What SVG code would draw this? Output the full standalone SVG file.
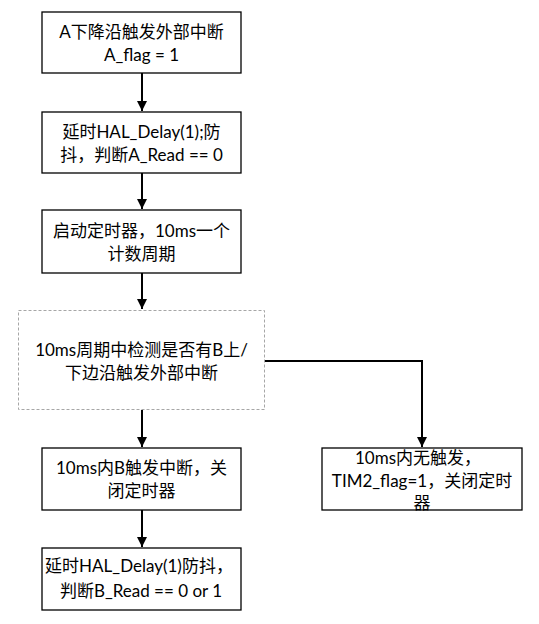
<svg xmlns="http://www.w3.org/2000/svg" width="539" height="624" viewBox="0 0 539 624">
<defs>
<style>
.box{fill:#fff;stroke:#000;stroke-width:1.3}
.dash{fill:#fff;stroke:#a6a6a6;stroke-width:1;stroke-dasharray:3 2}
.t{font-family:Lato,"Noto Sans CJK SC",sans-serif;font-size:17px;fill:#000;text-anchor:middle}
.c{fill:none;stroke:#000;stroke-width:2}
</style>
<marker id="ah" markerWidth="10" markerHeight="10" refX="10" refY="5" orient="auto" markerUnits="userSpaceOnUse">
<path d="M0,0 L10,5 L0,10 Z" fill="#000"/>
</marker>
</defs>
<rect width="539" height="624" fill="#fff"/>
<g id="connectors">
<line class="c" x1="142" y1="73" x2="142" y2="111" marker-end="url(#ah)"/>
<line class="c" x1="142" y1="173" x2="142" y2="209" marker-end="url(#ah)"/>
<line class="c" x1="142" y1="273" x2="142" y2="309" marker-end="url(#ah)"/>
<line class="c" x1="142" y1="410" x2="142" y2="447" marker-end="url(#ah)"/>
<line class="c" x1="142" y1="510" x2="142" y2="547" marker-end="url(#ah)"/>
<polyline class="c" points="265,361 422,361 422,447" marker-end="url(#ah)"/>
</g>
<g id="n1">
<rect class="box" x="42" y="12" width="199" height="61"/>
<text class="t" x="141.5" y="38">A下降沿触发外部中断</text>
<text class="t" x="141.5" y="61">A_flag = 1</text>
</g>
<g id="n2">
<rect class="box" x="42" y="112" width="199" height="61"/>
<text class="t" x="141.5" y="138">延时HAL_Delay(1);防</text>
<text class="t" x="141.5" y="161">抖，判断A_Read == 0</text>
</g>
<g id="n3">
<rect class="box" x="42" y="210" width="199" height="63"/>
<text class="t" x="141.5" y="237">启动定时器，10ms一个</text>
<text class="t" x="141.5" y="260">计数周期</text>
</g>
<g id="n4">
<rect class="dash" x="18.5" y="310.5" width="246" height="99"/>
<text class="t" x="141.5" y="356">10ms周期中检测是否有B上/</text>
<text class="t" x="141.5" y="379">下边沿触发外部中断</text>
</g>
<g id="n5">
<rect class="box" x="42" y="448" width="199" height="62"/>
<text class="t" x="141.5" y="474">10ms内B触发中断，关</text>
<text class="t" x="141.5" y="497">闭定时器</text>
</g>
<g id="n6">
<rect class="box" x="42" y="548" width="199" height="62"/>
<text class="t" x="139" y="572">延时HAL_Delay(1)防抖，</text>
<text class="t" x="141" y="597">判断B_Read == 0 or 1</text>
</g>
<g id="n7">
<rect class="box" x="322" y="448" width="200" height="62"/>
<text class="t" x="418" y="464">10ms内无触发，</text>
<text class="t" x="422" y="487">TIM2_flag=1，关闭定时</text>
<text class="t" x="422" y="509">器</text>
</g>
</svg>
